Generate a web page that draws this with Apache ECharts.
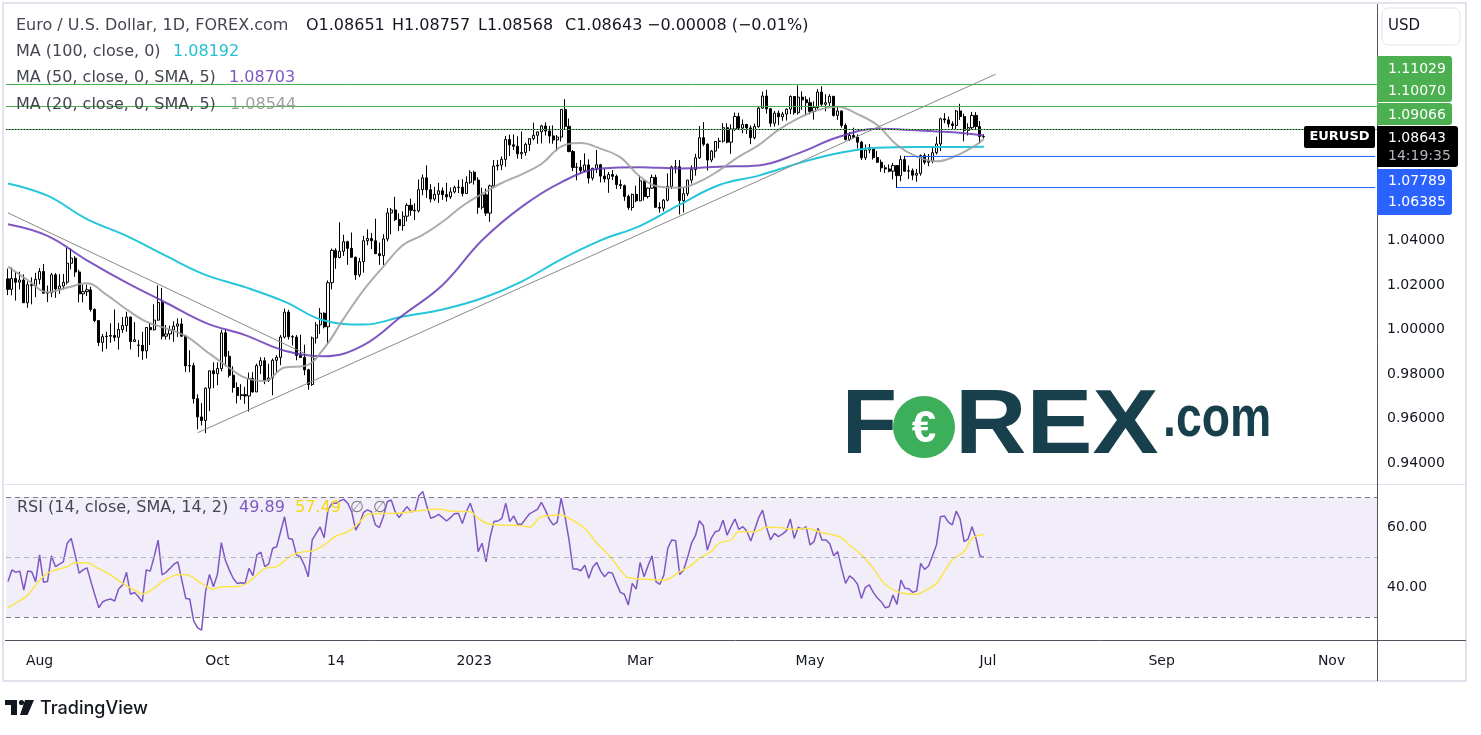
<!DOCTYPE html>
<html>
<head>
<meta charset="utf-8">
<script src="https://cdn.jsdelivr.net/npm/echarts@6/dist/echarts.min.js"></script>
<style>
html,body{margin:0;padding:0;background:#fff;}
#chart{width:1481px;height:735px;}
</style>
</head>
<body>
<div id="chart"></div>
<script>
// ---------- DATA ----------
const startDate = '2022-07-20';
const endDate = '2023-11-16';

const opens = [1.0227,1.0180,1.0229,1.0212,1.0222,1.0120,1.0201,1.0197,1.0225,1.0260,1.0163,1.0165,1.0245,1.0182,1.0195,1.0212,1.0297,1.0320,1.0258,1.0160,1.0170,1.0178,1.0090,1.0040,0.9942,0.9968,0.9970,0.9973,0.9965,1.0000,1.0018,1.0056,0.9946,0.9930,0.9929,0.9904,1.0009,0.9999,1.0042,1.0121,0.9970,0.9980,0.9998,1.0015,1.0025,0.9970,0.9837,0.9838,0.9690,0.9608,0.9592,0.9737,0.9815,0.9802,0.9825,0.9985,0.9880,0.9795,0.9740,0.9704,0.9708,0.9702,0.9780,0.9720,0.9838,0.9860,0.9772,0.9783,0.9862,0.9875,0.9966,1.0078,0.9968,0.9966,0.9884,0.9875,0.9819,0.9753,0.9962,1.0021,1.0073,1.0012,1.0210,1.0355,1.0323,1.0351,1.0394,1.0364,1.0324,1.0245,1.0304,1.0398,1.0408,1.0398,1.0340,1.0331,1.0406,1.0523,1.0536,1.0493,1.0466,1.0508,1.0557,1.0535,1.0532,1.0627,1.0680,1.0627,1.0585,1.0606,1.0622,1.0605,1.0595,1.0617,1.0637,1.0638,1.0610,1.0660,1.0705,1.0670,1.0548,1.0604,1.0522,1.0644,1.0733,1.0737,1.0763,1.0852,1.0828,1.0822,1.0788,1.0794,1.0830,1.0856,1.0871,1.0886,1.0913,1.0890,1.0868,1.0850,1.0863,1.0987,1.0911,1.0798,1.0727,1.0728,1.0713,1.0738,1.0679,1.0723,1.0739,1.0688,1.0675,1.0695,1.0687,1.0650,1.0645,1.0597,1.0547,1.0606,1.0577,1.0667,1.0596,1.0634,1.0682,1.0548,1.0544,1.0580,1.0642,1.0729,1.0730,1.0578,1.0609,1.0670,1.0717,1.0770,1.0860,1.0831,1.0760,1.0800,1.0843,1.0845,1.0905,1.0840,1.0899,1.0955,1.0903,1.0920,1.0904,1.0860,1.0910,1.0993,1.1047,1.0990,1.0925,1.0970,1.0954,1.0966,1.0988,1.1045,1.0972,1.1042,1.1030,1.1017,1.0978,1.0995,1.1065,1.1010,1.1017,1.1046,1.0960,1.0980,1.0915,1.0852,1.0870,1.0862,1.0840,1.0770,1.0805,1.0816,1.0771,1.0750,1.0725,1.0720,1.0710,1.0735,1.0690,1.0762,1.0710,1.0712,1.0692,1.0700,1.0780,1.0750,1.0755,1.0793,1.0832,1.0945,1.0940,1.0922,1.0915,1.0980,1.0955,1.0893,1.0905,1.0960,1.0910,1.08651];
const highs = [1.0273,1.0278,1.0258,1.0259,1.0247,1.0216,1.0234,1.0254,1.0275,1.0294,1.0197,1.0254,1.0253,1.0248,1.0249,1.0368,1.0364,1.0329,1.0268,1.0202,1.0201,1.0192,1.0095,1.0042,0.9980,0.9990,1.0028,1.0090,1.0030,1.0055,1.0080,1.0057,1.0033,0.9953,0.9990,1.0010,1.0030,1.0113,1.0198,1.0187,1.0020,1.0017,1.0037,1.0050,1.0050,0.9975,0.9907,0.9851,0.9709,0.9670,0.9740,0.9815,0.9853,0.9853,0.9999,0.9998,0.9904,0.9835,0.9763,0.9755,0.9743,0.9807,0.9809,0.9847,0.9876,0.9875,0.9846,0.9870,0.9885,0.9975,1.0094,1.0088,0.9975,0.9975,0.9977,0.9932,0.9824,0.9968,1.0033,1.0096,1.0077,1.0220,1.0363,1.0364,1.0481,1.0425,1.0398,1.0435,1.0327,1.0321,1.0420,1.0449,1.0433,1.0497,1.0390,1.0428,1.0544,1.0545,1.0595,1.0521,1.0530,1.0566,1.0587,1.0566,1.0673,1.0695,1.0736,1.0652,1.0640,1.0658,1.0637,1.0658,1.0637,1.0645,1.0671,1.0674,1.0687,1.0714,1.0712,1.0683,1.0636,1.0632,1.0650,1.0760,1.0760,1.0776,1.0868,1.0874,1.0875,1.0866,1.0888,1.0838,1.0858,1.0927,1.0888,1.0918,1.0929,1.0913,1.0915,1.0872,1.0988,1.1033,1.0946,1.0805,1.0747,1.0760,1.0790,1.0763,1.0725,1.0805,1.0743,1.0720,1.0706,1.0715,1.0695,1.0672,1.0650,1.0605,1.0610,1.0645,1.0691,1.0668,1.0636,1.0695,1.0694,1.0570,1.0585,1.0700,1.0735,1.0760,1.0760,1.0636,1.0670,1.0736,1.0788,1.0912,1.0930,1.0835,1.0805,1.0845,1.0860,1.0925,1.0925,1.0920,1.0973,1.0972,1.0942,1.0921,1.0915,1.0923,1.0998,1.1067,1.1075,1.0993,1.0980,1.0982,1.0976,1.0991,1.1050,1.1047,1.1095,1.1068,1.1046,1.1040,1.1023,1.1078,1.1091,1.1055,1.1055,1.1047,1.1000,1.0982,1.0925,1.0885,1.0905,1.0875,1.0846,1.0830,1.0832,1.0818,1.0800,1.0762,1.0737,1.0740,1.0747,1.0736,1.0780,1.0779,1.0735,1.0722,1.0720,1.0785,1.0790,1.0787,1.0822,1.0865,1.0950,1.0970,1.0955,1.0934,1.0985,1.1012,1.0968,1.0925,1.0976,1.0975,1.0935,1.08757];
const lows = [1.0154,1.0153,1.0130,1.0180,1.0119,1.0097,1.0113,1.0145,1.0203,1.0160,1.0123,1.0145,1.0142,1.0160,1.0180,1.0202,1.0270,1.0236,1.0122,1.0122,1.0150,1.0080,1.0033,0.9926,0.9901,0.9913,0.9940,0.9947,0.9910,0.9985,0.9990,0.9911,0.9946,0.9877,0.9864,0.9870,0.9930,0.9995,1.0040,0.9955,0.9955,0.9955,0.9945,0.9967,0.9966,0.9810,0.9808,0.9668,0.9553,0.9570,0.9535,0.9634,0.9737,0.9750,0.9812,0.9835,0.9785,0.9717,0.9668,0.9685,0.9667,0.9632,0.9717,0.9720,0.9800,0.9755,0.9765,0.9705,0.9808,0.9840,0.9960,0.9955,0.9929,0.9862,0.9874,0.9795,0.9730,0.9747,0.9937,0.9980,1.0005,0.9934,1.0180,1.0272,1.0319,1.0330,1.0290,1.0323,1.0223,1.0235,1.0255,1.0378,1.0361,1.0339,1.0290,1.0289,1.0395,1.0427,1.0486,1.0442,1.0443,1.0485,1.0510,1.0491,1.0525,1.0602,1.0590,1.0570,1.0577,1.0568,1.0582,1.0574,1.0585,1.0610,1.0612,1.0597,1.0609,1.0653,1.0650,1.0519,1.0538,1.0510,1.0483,1.0635,1.0713,1.0715,1.0730,1.0778,1.0805,1.0766,1.0765,1.0780,1.0800,1.0848,1.0833,1.0835,1.0870,1.0835,1.0833,1.0800,1.0843,1.0896,1.0795,1.0710,1.0669,1.0700,1.0707,1.0655,1.0668,1.0702,1.0660,1.0660,1.0613,1.0670,1.0630,1.0630,1.0577,1.0536,1.0533,1.0571,1.0575,1.0578,1.0588,1.0630,1.0545,1.0524,1.0530,1.0575,1.0630,1.0700,1.0516,1.0525,1.0598,1.0655,1.0690,1.0765,1.0822,1.0713,1.0750,1.0770,1.0812,1.0838,1.0835,1.0788,1.0890,1.0895,1.0880,1.0877,1.0831,1.0853,1.0905,1.0990,1.0968,1.0909,1.0910,1.0916,1.0936,1.0937,1.0966,1.0963,1.0964,1.0985,1.0960,1.0965,1.0941,1.0990,1.1003,1.0978,1.1000,1.0955,1.0940,1.0905,1.0848,1.0845,1.0860,1.0812,1.0760,1.0760,1.0790,1.0762,1.0747,1.0707,1.0702,1.0705,1.0673,1.0635,1.0665,1.0707,1.0675,1.0670,1.0663,1.0690,1.0740,1.0732,1.0745,1.0785,1.0800,1.0925,1.0906,1.0896,1.0895,1.0940,1.0844,1.0870,1.0896,1.0895,1.0834,1.08568];
const closes = [1.0180,1.0229,1.0212,1.0222,1.0120,1.0201,1.0197,1.0225,1.0260,1.0163,1.0165,1.0245,1.0182,1.0195,1.0212,1.0297,1.0320,1.0258,1.0160,1.0170,1.0178,1.0090,1.0040,0.9942,0.9968,0.9970,0.9973,0.9965,1.0000,1.0018,1.0056,0.9946,0.9954,0.9929,0.9904,1.0009,0.9999,1.0042,1.0121,0.9970,0.9980,0.9998,1.0015,1.0025,0.9970,0.9837,0.9838,0.9690,0.9608,0.9592,0.9737,0.9815,0.9802,0.9825,0.9985,0.9880,0.9795,0.9740,0.9704,0.9708,0.9702,0.9780,0.9720,0.9838,0.9860,0.9772,0.9783,0.9862,0.9875,0.9966,1.0078,0.9968,0.9966,0.9884,0.9875,0.9819,0.9753,0.9962,1.0021,1.0073,1.0012,1.0210,1.0355,1.0323,1.0351,1.0394,1.0364,1.0324,1.0245,1.0304,1.0398,1.0408,1.0398,1.0340,1.0331,1.0406,1.0523,1.0536,1.0493,1.0466,1.0508,1.0557,1.0535,1.0532,1.0627,1.0680,1.0627,1.0585,1.0606,1.0622,1.0605,1.0595,1.0617,1.0637,1.0638,1.0610,1.0660,1.0705,1.0670,1.0548,1.0604,1.0522,1.0644,1.0733,1.0737,1.0763,1.0852,1.0828,1.0822,1.0788,1.0794,1.0830,1.0856,1.0871,1.0886,1.0913,1.0890,1.0868,1.0850,1.0863,1.0987,1.0911,1.0798,1.0727,1.0728,1.0713,1.0738,1.0679,1.0723,1.0739,1.0688,1.0675,1.0695,1.0687,1.0650,1.0645,1.0597,1.0547,1.0606,1.0577,1.0667,1.0596,1.0634,1.0682,1.0548,1.0544,1.0580,1.0642,1.0729,1.0730,1.0578,1.0609,1.0670,1.0717,1.0770,1.0860,1.0831,1.0760,1.0800,1.0843,1.0845,1.0905,1.0840,1.0899,1.0955,1.0903,1.0920,1.0904,1.0860,1.0910,1.0993,1.1047,1.0990,1.0925,1.0970,1.0954,1.0966,1.0988,1.1045,1.0972,1.1042,1.1030,1.1017,1.0978,1.0995,1.1065,1.1010,1.1017,1.1046,1.0960,1.0980,1.0915,1.0852,1.0870,1.0862,1.0840,1.0770,1.0805,1.0816,1.0771,1.0750,1.0725,1.0720,1.0710,1.0735,1.0690,1.0762,1.0710,1.0712,1.0692,1.0700,1.0780,1.0750,1.0755,1.0793,1.0832,1.0945,1.0940,1.0922,1.0915,1.0980,1.0955,1.0893,1.0905,1.0960,1.0910,1.0866,1.08643];

// moving averages (bar index, value)
const ma100Idx = [0,10,20,30,40,50,60,70,80,90,100,110,120,130,140,150,160,170,180,190,200,210,220,230,240,247];
const ma100Val = [1.0655,1.0600,1.0495,1.0420,1.0330,1.0245,1.0190,1.0125,1.0040,1.0022,1.0058,1.0090,1.0140,1.0215,1.0315,1.0400,1.0465,1.0560,1.0648,1.0690,1.0745,1.0790,1.0815,1.0818,1.0818,1.0819];
const ma50Idx = [0,10,20,30,40,50,60,70,80,90,100,110,120,130,140,150,160,170,180,190,200,210,220,230,240,247];
const ma50Val = [1.0472,1.0420,1.0310,1.0210,1.0120,1.0030,0.9975,0.9905,0.9880,0.9930,1.0065,1.0200,1.0400,1.0550,1.0660,1.0722,1.0728,1.0722,1.0730,1.0736,1.0790,1.0862,1.0900,1.0893,1.0883,1.0870];
const ma20Idx = [0,5,10,15,20,25,30,35,40,45,50,55,60,65,70,75,80,85,90,95,100,105,110,115,120,125,130,135,140,145,150,155,160,165,170,175,180,185,190,195,200,205,210,215,220,225,230,235,240,245,247];
const ma20Val = [1.0282,1.0222,1.0167,1.0188,1.0207,1.0155,1.0091,1.0035,1.0005,0.9971,0.9905,0.9841,0.9784,0.9769,0.9830,0.9836,0.9916,1.0050,1.0177,1.0282,1.0379,1.0424,1.0483,1.0554,1.0608,1.0657,1.0696,1.0742,1.0820,1.0836,1.0811,1.0772,1.0685,1.0640,1.0636,1.0663,1.0714,1.0775,1.0827,1.0895,1.0947,1.0984,1.0999,1.0966,1.0917,1.0827,1.0775,1.0754,1.0779,1.0827,1.0854];

// drawn levels and trend lines
const resistanceLevels = [1.11029, 1.10070, 1.09066];
const supportLevels = [{from: 227, value: 1.07789}, {from: 225, value: 1.06385}];
const lastPrice = 1.08643;
const trendDown = [[0, 1.0523], [78, 0.9868]];
const trendUp = [[48, 0.9537], [250, 1.1145]];

// RSI (14) and its SMA
const rsiValues = [41.8,45.7,44.9,45.3,39.0,45.3,45.1,41.8,50.7,41.6,41.8,50.4,46.8,47.6,48.4,54.6,56.2,50.7,44.6,45.7,46.4,41.8,37.3,33.1,35.1,35.7,36.0,35.3,39.3,40.7,44.9,37.6,38.2,36.8,35.1,45.7,45.3,50.1,55.6,44.0,44.9,46.2,47.6,48.4,42.3,36.2,36.0,28.7,26.4,25.6,38.4,44.2,40.1,44.2,54.8,49.0,45.7,42.9,41.2,41.4,41.2,46.2,43.8,50.7,51.6,46.8,47.7,52.9,53.4,58.4,63.4,56.2,55.9,50.7,50.1,47.3,43.4,55.7,57.9,60.0,56.4,65.7,67.9,67.9,68.7,69.2,67.9,65.1,59.0,61.2,64.9,65.7,65.1,60.7,59.8,63.4,68.4,69.0,65.1,63.1,65.1,66.8,65.1,65.3,70.4,71.8,67.0,62.9,63.4,64.2,63.1,62.0,63.1,64.4,64.6,61.2,65.1,67.9,64.0,51.8,54.6,48.4,56.4,61.8,62.0,62.9,67.9,61.8,63.7,60.9,60.9,62.7,64.4,65.1,65.9,68.2,65.7,62.6,60.7,61.6,69.6,63.4,55.7,46.0,46.0,45.4,47.3,42.9,46.6,48.2,45.3,43.4,44.9,44.6,41.2,38.2,37.6,34.0,41.2,39.3,48.2,43.4,47.1,50.4,41.8,40.9,44.0,52.9,55.7,55.4,44.2,45.7,49.8,54.6,57.1,62.1,60.4,52.3,56.2,58.4,58.8,62.3,57.3,60.1,62.7,59.2,60.1,58.7,55.3,59.2,63.1,65.6,59.8,55.7,57.9,56.8,57.6,58.7,62.7,56.2,59.9,59.3,60.1,54.0,55.1,59.6,55.7,55.7,54.4,50.4,51.8,46.2,41.2,43.7,42.7,41.0,36.2,39.9,40.7,38.2,36.4,35.1,33.1,33.4,37.3,34.2,42.3,39.6,39.4,38.2,38.7,47.9,45.9,47.0,50.4,54.0,63.4,63.7,61.6,60.7,65.3,62.6,55.1,56.0,60.1,56.2,50.4,49.89];
const rsiMaIdx = [0,2,5,7,10,15,17,20,22,26,29,32,34,37,39,42,44,46,49,52,54,57,60,63,65,68,70,72,75,77,80,83,86,89,91,98,102,106,109,112,117,119,122,125,130,132,135,140,142,146,149,152,155,157,162,166,170,173,175,178,180,183,185,189,192,195,199,202,206,209,211,213,216,219,222,226,230,232,235,237,239,242,244,247];
const rsiMaVal = [33.1,34.6,37.3,40.7,44.6,46.8,48.1,48.1,46.8,44.0,41.2,39.0,37.7,39.6,41.8,43.8,44.2,43.8,41.2,39.3,40.1,40.1,40.9,44.0,46.2,46.8,48.7,50.7,51.8,52.0,54.0,57.0,58.4,61.6,64.2,64.6,65.1,65.7,66.0,65.3,65.1,62.9,60.9,60.7,60.4,60.0,63.4,64.0,62.9,59.6,54.6,50.7,45.7,43.1,42.6,42.3,45.1,47.3,49.6,51.8,54.6,55.7,58.4,58.4,59.9,59.8,59.2,59.6,58.1,57.3,56.4,54.0,50.7,46.2,40.9,38.1,37.6,38.7,41.2,45.1,49.0,51.8,56.2,57.49];

// axis tick labels
const priceTicks = [0.94, 0.96, 0.98, 1.00, 1.02, 1.04];
const rsiTicks = [40, 60];
const xTickDates = ['2022-08-01','2022-10-03','2022-11-14','2023-01-02','2023-03-01','2023-05-01','2023-07-03','2023-09-01','2023-11-01'];
const xTickLabels = ['Aug','Oct','14','2023','Mar','May','Jul','Sep','Nov'];

// ---------- BUILD ----------
function weekdays(a, b) {
  const out = [];
  const d = new Date(a + 'T00:00:00Z');
  const e = new Date(b + 'T00:00:00Z');
  while (d <= e) {
    const w = d.getUTCDay();
    if (w !== 0 && w !== 6) out.push(d.toISOString().slice(0, 10));
    d.setUTCDate(d.getUTCDate() + 1);
  }
  return out;
}
const categories = weekdays(startDate, endDate);
const lastIdx = categories.length - 1;
const candleData = opens.map((o, i) => [o, closes[i], lows[i], highs[i]]);
const pairs = (idx, val) => idx.map((x, i) => [x, val[i]]);
const tickMap = {};
xTickDates.forEach((d, i) => { tickMap[d] = xTickLabels[i]; });

const FONT = '"DejaVu Sans", sans-serif';
const chart = echarts.init(document.getElementById('chart'), null, {renderer: 'canvas'});

const G = [];
function txt(x, y, text, fill, size, opts) {
  opts = opts || {};
  const el = {type: 'text', x: x, y: y, z: opts.z || 100, silent: true,
    style: {text: text, fill: fill, font: (opts.weight || 'normal') + ' ' + size + 'px ' + (opts.family || FONT),
      textAlign: opts.align || 'left', textVerticalAlign: 'middle'}};
  if (opts.scaleX) el.scaleX = opts.scaleX;
  G.push(el);
}
function rect(x, y, w, h, fill, opts) {
  opts = opts || {};
  G.push({type: 'rect', z: opts.z || 90, silent: true, shape: {x: x, y: y, width: w, height: h, r: opts.r || 0},
    style: {fill: fill, stroke: opts.stroke || null, lineWidth: opts.lw || 0}});
}
function line(x1, y1, x2, y2, color, lw, z) {
  G.push({type: 'line', z: z || 80, silent: true, shape: {x1: x1, y1: y1, x2: x2, y2: y2}, style: {stroke: color, lineWidth: lw || 1}});
}

// frame & separators
G.push({type: 'rect', z: 1, silent: true, shape: {x: 3, y: 3, width: 1463, height: 678}, style: {fill: 'none', stroke: '#e0e3eb', lineWidth: 2}});
line(5, 484.5, 1466, 484.5, '#e0e3eb', 1);
line(5, 640.5, 1466, 640.5, '#50535e', 1);
line(1377.5, 4, 1377.5, 681, '#50535e', 1);

// header legend
const dark = '#131722', mid = '#434651';
const LS = 16;
txt(16, 26, 'Euro / U.S. Dollar, 1D, FOREX.com', mid, LS);
txt(306, 26, 'O1.08651', dark, LS);
txt(392, 26, 'H1.08757', dark, LS);
txt(478, 26, 'L1.08568', dark, LS);
txt(565, 26, 'C1.08643', dark, LS);
txt(647, 26, '\u22120.00008 (\u22120.01%)', dark, LS);
txt(16, 52, 'MA (100, close, 0)', mid, LS);
txt(173, 52, '1.08192', '#22c1d6', LS);
txt(16, 78, 'MA (50, close, 0, SMA, 5)', mid, LS);
txt(229, 78, '1.08703', '#7e57c2', LS);
txt(16, 105, 'MA (20, close, 0, SMA, 5)', mid, LS);
txt(230, 105, '1.08544', '#a0a0a0', LS);
// RSI legend
txt(17, 508, 'RSI (14, close, SMA, 14, 2)', mid, LS);
txt(239, 508, '49.89', '#7e57c2', LS);
txt(295, 508, '57.49', '#f5d90a', LS);
txt(350, 508, '\u2205', '#787b86', LS);
txt(373, 508, '\u2205', '#787b86', LS);

// right scale badges
rect(1382, 8, 78, 37, '#ffffff', {stroke: '#e0e3eb', lw: 1, r: 6});
txt(1388, 26, 'USD', dark, 15);
rect(1377, 56, 75, 46, '#4caf50', {r: [0, 3, 3, 0]});
rect(1377, 103, 75, 22, '#4caf50', {r: [0, 3, 3, 0]});
rect(1377, 126, 81, 41, '#000000', {r: [0, 3, 3, 0]});
rect(1377, 169, 75, 46, '#2962ff', {r: [0, 3, 3, 0]});
txt(1388, 69, '1.11029', '#ffffff', 14, {z: 101});
txt(1388, 91, '1.10070', '#ffffff', 14, {z: 101});
txt(1388, 115, '1.09066', '#ffffff', 14, {z: 101});
txt(1388, 138, '1.08643', '#ffffff', 14, {z: 101});
txt(1388, 156, '14:19:35', '#b2b5be', 14, {z: 101});
txt(1388, 181, '1.07789', '#ffffff', 14, {z: 101});
txt(1388, 202, '1.06385', '#ffffff', 14, {z: 101});
rect(1304, 126, 71, 22, '#000000', {r: 2});
txt(1339.5, 137, 'EURUSD', '#ffffff', 13, {weight: 'bold', align: 'center', z: 101});

// watermark
const wm = '#173f4c';
const WF = '"Liberation Sans", sans-serif';
txt(842, 428, 'F', wm, 90, {weight: 'bold', family: WF, z: 5});
G.push({type: 'circle', z: 5, silent: true, shape: {cx: 924, cy: 427, r: 31}, style: {fill: '#3dae5a'}});
txt(924, 430, '\u20ac', '#ffffff', 44, {weight: 'bold', align: 'center', family: WF, z: 6});
txt(955, 428, 'REX', wm, 90, {weight: 'bold', family: WF, z: 5, scaleX: 1.1});
txt(1163, 420, '.com', wm, 58, {weight: 'bold', family: WF, z: 5, scaleX: 0.8});

// TradingView logo
rect(5, 700, 12, 5, dark, {z: 100});
rect(11, 700, 6, 15, dark, {z: 100});
G.push({type: 'circle', z: 100, silent: true, shape: {cx: 21.5, cy: 702.5, r: 2.6}, style: {fill: dark}});
G.push({type: 'polygon', z: 100, silent: true, shape: {points: [[25, 700], [34, 700], [27.5, 715], [20, 715]]}, style: {fill: dark}});
txt(40, 709, 'TradingView', dark, 18, {family: 'Inter, sans-serif', weight: '500'});

const PMIN = 0.93117, PMAX = 1.14552;
const noLabel = {show: false};
const hidden = {type: 'line', xAxisIndex: 0, yAxisIndex: 0, data: [], silent: true};

const option = {
  animation: false,
  backgroundColor: '#ffffff',
  grid: [
    {left: 6, right: 104, top: 5, height: 478},
    {left: 6, right: 104, top: 486, height: 154}
  ],
  xAxis: [
    {type: 'category', gridIndex: 0, data: categories, boundaryGap: true, show: false},
    {type: 'category', gridIndex: 1, data: categories, boundaryGap: true,
      axisLine: {show: false}, axisTick: {show: false}, splitLine: {show: false},
      axisLabel: {interval: (idx, val) => tickMap[val] !== undefined, formatter: (val) => tickMap[val] || '',
        color: dark, fontSize: 14, fontFamily: FONT, margin: 14}}
  ],
  yAxis: [
    {type: 'value', gridIndex: 0, position: 'right', min: PMIN, max: PMAX, scale: true,
      axisLine: {show: false}, axisTick: {show: false}, splitLine: {show: false},
      axisLabel: {customValues: priceTicks, formatter: (v) => v.toFixed(5), color: dark, fontSize: 14, fontFamily: FONT, margin: 10, align: 'left'}},
    {type: 'value', gridIndex: 1, position: 'right', min: 22.333, max: 73.667,
      axisLine: {show: false}, axisTick: {show: false}, splitLine: {show: false},
      axisLabel: {customValues: rsiTicks, formatter: (v) => v.toFixed(2), color: dark, fontSize: 14, fontFamily: FONT, margin: 10, align: 'left'}}
  ],
  series: [
    Object.assign({}, hidden, {name: 'resistance', z: 2,
      markLine: {silent: true, symbol: ['none', 'none'], label: noLabel, lineStyle: {color: '#4caf50', width: 1, type: 'solid'},
        data: resistanceLevels.map(v => ({yAxis: v}))}}),
    Object.assign({}, hidden, {name: 'support', z: 2,
      markLine: {silent: true, symbol: ['none', 'none'], label: noLabel, lineStyle: {color: '#2962ff', width: 1, type: 'solid'},
        data: supportLevels.map(s => [{coord: [s.from, s.value]}, {coord: [lastIdx, s.value]}])}}),
    Object.assign({}, hidden, {name: 'last', z: 2,
      markLine: {silent: true, symbol: ['none', 'none'], label: noLabel, lineStyle: {color: '#131722', width: 1, type: [1, 2]},
        data: [{yAxis: lastPrice}]}}),
    {type: 'candlestick', xAxisIndex: 0, yAxisIndex: 0, data: candleData, barWidth: 2.6, z: 3,
      itemStyle: {color: '#ffffff', color0: '#000000', borderColor: '#000000', borderColor0: '#000000', borderWidth: 1}},
    {type: 'line', xAxisIndex: 0, yAxisIndex: 0, data: pairs(ma100Idx, ma100Val), smooth: 0.4, showSymbol: false, z: 4,
      lineStyle: {color: '#26c6da', width: 2}},
    {type: 'line', xAxisIndex: 0, yAxisIndex: 0, data: pairs(ma50Idx, ma50Val), smooth: 0.4, showSymbol: false, z: 4,
      lineStyle: {color: '#673ab7', width: 2, opacity: 0.85}},
    {type: 'line', xAxisIndex: 0, yAxisIndex: 0, data: pairs(ma20Idx, ma20Val), smooth: 0.4, showSymbol: false, z: 4,
      lineStyle: {color: '#9e9e9e', width: 2, opacity: 0.85}},
    {type: 'line', xAxisIndex: 0, yAxisIndex: 0, data: trendDown, showSymbol: false, z: 4,
      lineStyle: {color: '#8a8a8a', width: 1}},
    {type: 'line', xAxisIndex: 0, yAxisIndex: 0, data: trendUp, showSymbol: false, z: 4,
      lineStyle: {color: '#8a8a8a', width: 1}},
    {type: 'line', xAxisIndex: 1, yAxisIndex: 1, data: rsiValues, showSymbol: false, z: 4,
      lineStyle: {color: '#7e57c2', width: 1.5},
      markArea: {silent: true, itemStyle: {color: 'rgba(126,87,194,0.1)'}, data: [[{yAxis: 30}, {yAxis: 70}]]},
      markLine: {silent: true, symbol: ['none', 'none'], label: noLabel,
        data: [
          {yAxis: 70, lineStyle: {color: '#787b86', width: 1, type: [5, 4]}},
          {yAxis: 50, lineStyle: {color: '#b2b5be', width: 1, type: [5, 4]}},
          {yAxis: 30, lineStyle: {color: '#787b86', width: 1, type: [5, 4]}}
        ]}
    },
    {type: 'line', xAxisIndex: 1, yAxisIndex: 1, data: pairs(rsiMaIdx, rsiMaVal), smooth: 0.4, showSymbol: false, z: 4,
      lineStyle: {color: '#fbe54a', width: 1.5}}
  ],
  graphic: {elements: G}
};
chart.setOption(option);
</script>
</body>
</html>
